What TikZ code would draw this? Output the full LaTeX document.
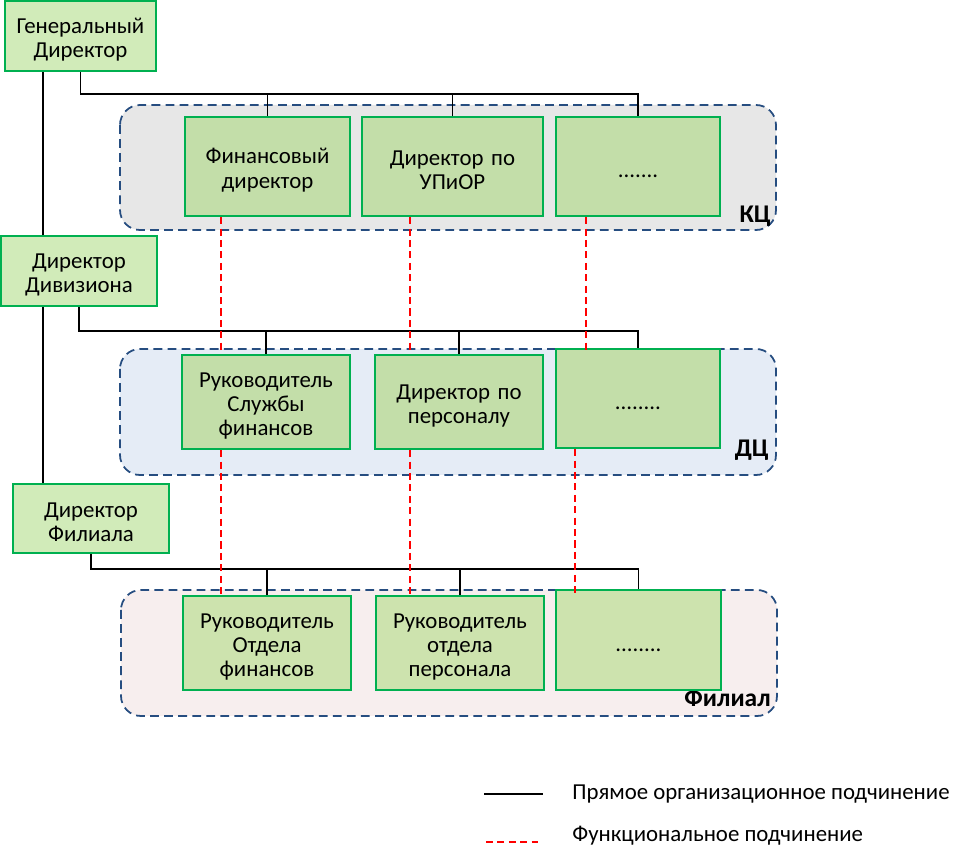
\documentclass[tikz,border=0pt]{standalone}
\usepackage{fontspec}
\setmainfont{Carlito}
\definecolor{boxline}{HTML}{00B050}
\definecolor{boxtop}{HTML}{D1EBB9}
\definecolor{boxin}{HTML}{C3DEA9}
\definecolor{boxfil}{HTML}{CDE3AE}
\definecolor{grpline}{HTML}{264D80}
\definecolor{kcfill}{HTML}{E7E7E7}
\definecolor{dcfill}{HTML}{E5ECF6}
\definecolor{filfill}{HTML}{F7EEEE}
\tikzset{
  post/.style={draw=boxline,line width=1.3pt,text width=2.8cm,align=center,inner sep=2pt,
    font=\fontsize{13}{13.8}\selectfont,execute at begin node={\rule{0pt}{13pt}}},
  toppost/.style={post,fill=boxtop,minimum height=1.4cm},
  unit/.style={post,fill=boxin,minimum height=1.88cm},
  group/.style={draw=grpline,line width=1pt,dash pattern=on 5pt off 3pt,rounded corners=0.4cm},
  org/.style={line width=1pt},
  func/.style={red,line width=0.9pt,dash pattern=on 4pt off 2.5pt},
  grplabel/.style={anchor=base east,font=\fontsize{14.5}{16}\selectfont\bfseries,inner sep=0pt}
}
\begin{document}
\begin{tikzpicture}[x=0.02cm,y=-0.02cm]
\useasboundingbox (0,0) rectangle (971,864);
\filldraw[group,fill=kcfill] (120,105) rectangle (776,230);
\filldraw[group,fill=dcfill] (120,349) rectangle (776,475);
\filldraw[group,fill=filfill] (121,590) rectangle (777,716);
\node[grplabel] (kc) at (771,223) {КЦ};
\node[grplabel] (dc) at (769,457) {ДЦ};
\node[grplabel] (fil) at (771,707) {Филиал};

\node[toppost,minimum width=3.02cm] (gd) at (80.5,36) {Генеральный\\Директор};
\node[toppost,minimum width=3.12cm] (dd) at (79,271) {Директор\\Дивизиона};
\node[toppost,minimum width=3.12cm,minimum height=1.38cm] (fd) at (91,518.5) {Директор\\Филиала};

\node[unit,minimum width=3.3cm,minimum height=1.98cm] (fin) at (267.5,166.5) {Финансовый\\директор};
\node[unit,minimum width=3.62cm,minimum height=1.98cm] (upior) at (452.5,166.5) {Директор по\\УПиОР};
\node[unit,minimum width=3.28cm,minimum height=1.98cm] (kcdots) at (638,166.5) {.......};

\node[unit,minimum width=3.36cm] (sf) at (266,402) {Руководитель\\Службы\\финансов};
\node[unit,minimum width=3.36cm] (pers) at (459,402) {Директор по\\персоналу};
\node[unit,minimum width=3.28cm,minimum height=1.98cm] (dcdots) at (638,398.5) {........};

\node[unit,fill=boxfil,minimum width=3.36cm] (of) at (267,643) {Руководитель\\Отдела\\финансов};
\node[unit,fill=boxfil,minimum width=3.36cm] (op) at (460,643) {Руководитель\\отдела\\персонала};
\node[unit,fill=boxfil,minimum width=3.3cm,minimum height=2cm] (fdots) at (638.5,640) {........};

\draw[org] (gd.south -| 43,0) -- (dd.north -| 43,0);
\draw[org] (dd.south -| 43,0) -- (fd.north -| 43,0);

\draw[org] (gd.south) |- (kcdots.north |- 0,94) -- (kcdots.north);
\draw[org] (fin.north) -- (fin.north |- 0,94);
\draw[org] (upior.north) -- (upior.north |- 0,94);

\draw[org] (dd.south) |- (dcdots.north |- 0,331) -- (dcdots.north);
\draw[org] (sf.north) -- (sf.north |- 0,331);
\draw[org] (pers.north) -- (pers.north |- 0,331);

\draw[org] (fd.south) |- (fdots.north |- 0,569) -- (fdots.north);
\draw[org] (of.north) -- (of.north |- 0,569);
\draw[org] (op.north) -- (op.north |- 0,569);

\draw[func] (fin.south -| 221,0) -- (sf.north -| 221,0);
\draw[func] (upior.south -| 410,0) -- (pers.north -| 410,0);
\draw[func] (kcdots.south -| 586,0) -- ([yshift=-3pt]dcdots.north -| 586,0);
\draw[func] (sf.south -| 221,0) -- (of.north -| 221,0);
\draw[func] (pers.south -| 410,0) -- (op.north -| 410,0);
\draw[func] (dcdots.south -| 575,0) -- ([yshift=-3pt]fdots.north -| 575,0);

\coordinate (orgA) at (484,794);
\coordinate (orgB) at (543,794);
\coordinate (funcA) at (486,842);
\coordinate (funcB) at (538,842);
\draw[org] (orgA) -- (orgB);
\draw[func] (funcA) -- (funcB);
\node[anchor=west,inner sep=0pt,font=\fontsize{13}{14}\selectfont] (orgtext) at (572,794) {Прямое организационное подчинение};
\node[anchor=west,inner sep=0pt,font=\fontsize{13}{14}\selectfont] (functext) at (572,836) {Функциональное подчинение};
\end{tikzpicture}
\end{document}
